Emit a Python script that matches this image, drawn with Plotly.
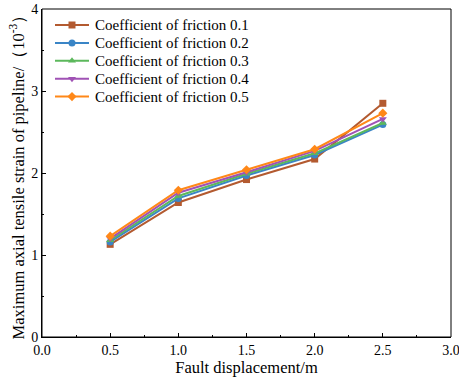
import plotly.graph_objects as go

displacement = [0.5, 1.0, 1.5, 2.0, 2.5]
series_names = ["Coefficient of friction 0.1", "Coefficient of friction 0.2",
                "Coefficient of friction 0.3", "Coefficient of friction 0.4",
                "Coefficient of friction 0.5"]
f01 = [1.13, 1.64, 1.92, 2.17, 2.85]
f02 = [1.16, 1.69, 1.97, 2.22, 2.59]
f03 = [1.18, 1.72, 1.99, 2.24, 2.61]
f04 = [1.20, 1.76, 2.01, 2.27, 2.66]
f05 = [1.23, 1.79, 2.04, 2.29, 2.73]
series_values = [f01, f02, f03, f04, f05]
colors = ["#B35A30", "#3A85C6", "#5CB85C", "#A052B5", "#FF8818"]
symbols = ["square", "circle", "triangle-up", "triangle-down", "diamond"]

W, H = 459, 380
ML, MR, MT, MB = 42, 8, 9, 43
PW, PH = W - ML - MR, H - MT - MB

fig = go.Figure()
for name, vals, c, s in zip(series_names, series_values, colors, symbols):
    fig.add_trace(go.Scatter(x=displacement, y=vals, name=name, mode="lines+markers",
                             line=dict(color=c, width=2),
                             marker=dict(symbol=s, size=7, color=c),
                             showlegend=False))

# Legend drawn on an overlay axis measured in pixels from the plot's top-left corner
leg_x0, leg_x1, leg_text_x = 13, 47, 51
leg_y0, leg_dy = 16, 17.9
for i, (name, c, s) in enumerate(zip(series_names, colors, symbols)):
    yy = leg_y0 + i * leg_dy
    fig.add_trace(go.Scatter(x=[leg_x0, leg_x1], y=[yy, yy], mode="lines",
                             line=dict(color=c, width=2), xaxis="x2", yaxis="y2",
                             showlegend=False, hoverinfo="skip"))
    fig.add_trace(go.Scatter(x=[(leg_x0 + leg_x1) / 2], y=[yy], mode="markers",
                             marker=dict(symbol=s, size=7, color=c), xaxis="x2", yaxis="y2",
                             showlegend=False, hoverinfo="skip"))
    fig.add_annotation(x=leg_text_x, y=yy, xref="x2", yref="y2", text=name,
                       showarrow=False, xanchor="left", yanchor="middle",
                       font=dict(size=15))

# frame around the plotting area
fig.add_shape(type="rect", xref="paper", yref="paper", x0=0, x1=1, y0=0, y1=1,
              line=dict(color="black", width=1), fillcolor="rgba(0,0,0,0)", layer="above")

font = "Liberation Serif, Times New Roman, serif"
axis_common = dict(showline=True, linecolor="black", linewidth=1, mirror=False,
                   ticks="inside", ticklen=4, tickcolor="black", ticklabeloverflow="allow",
                   showgrid=False, zeroline=False, automargin=False)
fig.update_layout(
    width=W, height=H,
    margin=dict(l=ML, r=MR, t=MT, b=MB),
    paper_bgcolor="white", plot_bgcolor="white",
    font=dict(family=font, size=14, color="black"),
    showlegend=False,
    xaxis=dict(range=[0, 3.0], tick0=0, dtick=0.5, tickformat=".1f",
               minor=dict(ticks="inside", ticklen=2, dtick=0.25, tickcolor="black"),
               title=dict(text="Fault displacement/m", font=dict(size=16.5), standoff=1),
               **axis_common),
    yaxis=dict(range=[0, 4], tick0=0, dtick=1,
               minor=dict(ticks="inside", ticklen=2, dtick=0.5, tickcolor="black"),
               title=dict(text="Maximum axial tensile strain of pipeline/（10<sup>-3</sup>）",
                          font=dict(size=16.5), standoff=2),
               **axis_common),
    xaxis2=dict(overlaying="x", range=[0, PW], visible=False, fixedrange=True),
    yaxis2=dict(overlaying="y", range=[PH, 0], visible=False, fixedrange=True),
)
fig.write_html("out.html", config={"displayModeBar": False},
               post_script="document.body.style.margin='0';")
